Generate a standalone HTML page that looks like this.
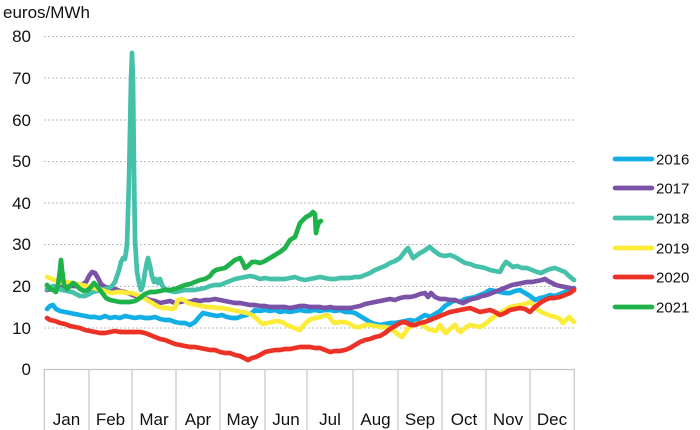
<!DOCTYPE html>
<html><head><meta charset="utf-8"><style>
html,body{margin:0;padding:0;background:#fff;}
svg{display:block;font-family:"Liberation Sans",Arial,sans-serif;}
</style></head><body>
<svg width="700" height="430" viewBox="0 0 700 430" xmlns="http://www.w3.org/2000/svg">
<rect width="700" height="430" fill="#fff"/>
<text x="3" y="18" font-size="17" fill="#111">euros/MWh</text>
<g stroke="#bdbdbd" stroke-width="1" stroke-dasharray="2,2">
<line x1="44" y1="36.5" x2="574" y2="36.5"/>
<line x1="44" y1="78" x2="574" y2="78"/>
<line x1="44" y1="120" x2="574" y2="120"/>
<line x1="44" y1="161.5" x2="574" y2="161.5"/>
<line x1="44" y1="203" x2="574" y2="203"/>
<line x1="44" y1="244.5" x2="574" y2="244.5"/>
<line x1="44" y1="286.5" x2="574" y2="286.5"/>
<line x1="44" y1="328" x2="574" y2="328"/>
</g>
<g font-size="17" fill="#111" text-anchor="end">
<text x="31" y="42">80</text>
<text x="31" y="84">70</text>
<text x="31" y="126">60</text>
<text x="31" y="167">50</text>
<text x="31" y="209">40</text>
<text x="31" y="250">30</text>
<text x="31" y="292">20</text>
<text x="31" y="334">10</text>
<text x="31" y="375">0</text>
</g>
<g stroke="#c4c4c4" stroke-width="1.2" fill="none">
<line x1="44" y1="369.5" x2="574" y2="369.5"/>
<line x1="44.3" y1="369" x2="44.3" y2="430"/>
<line x1="89" y1="369" x2="89" y2="430"/>
<line x1="132" y1="369" x2="132" y2="430"/>
<line x1="176" y1="369" x2="176" y2="430"/>
<line x1="220" y1="369" x2="220" y2="430"/>
<line x1="265" y1="369" x2="265" y2="430"/>
<line x1="307" y1="369" x2="307" y2="430"/>
<line x1="353" y1="369" x2="353" y2="430"/>
<line x1="398" y1="369" x2="398" y2="430"/>
<line x1="442" y1="369" x2="442" y2="430"/>
<line x1="486" y1="369" x2="486" y2="430"/>
<line x1="530" y1="369" x2="530" y2="430"/>
<line x1="574.3" y1="369" x2="574.3" y2="430"/>
</g>
<g font-size="17" fill="#111" text-anchor="middle">
<text x="66.5" y="425">Jan</text>
<text x="110.5" y="425">Feb</text>
<text x="154" y="425">Mar</text>
<text x="198" y="425">Apr</text>
<text x="242.5" y="425">May</text>
<text x="286" y="425">Jun</text>
<text x="330" y="425">Jul</text>
<text x="375.5" y="425">Aug</text>
<text x="420" y="425">Sep</text>
<text x="464" y="425">Oct</text>
<text x="508" y="425">Nov</text>
<text x="552" y="425">Dec</text>
</g>
<g fill="none" stroke-width="4.7" stroke-linejoin="round" stroke-linecap="round">
<polyline stroke="#12aee6" points="47,309 50,306 53,305 56,309 60,311 65,312 70,313 75,314 80,315 85,316 90,317 95,317 100,318 105,316 110,318 115,317 120,318 125,316 130,317 135,318 140,317 145,318 150,318 155,317 160,319 165,320 170,320 175,322 180,323 185,323 190,325 195,322 200,316 203,313 207,314 212,315 217,316 222,315 227,317 232,318 237,318 242,316 247,315 252,313 255,310 260,311 265,310 270,311 275,310 280,312 285,311 290,312 295,311 300,310 305,311 310,311 315,310 320,311 325,310 330,310 335,311 340,310 345,312 350,312 355,313 360,316 365,319 370,322 375,324 380,325 385,324 390,323 395,323 400,322 405,321 410,320 415,321 420,318 425,315 430,317 435,314 440,311 445,306 450,303 455,300 460,302 465,299 470,298 475,297 480,295 485,293 490,290 495,291 500,292 505,293 510,293 515,291 520,290 525,293 530,296 535,300 540,298 545,297 550,295 555,296 560,294 565,292 570,290 574,288"/>
<polyline stroke="#7a52a8" points="47,290 52,289 57,288 62,287 67,286 72,286 77,286 82,285 86,282 89,276 92,272 95,273 98,278 101,284 105,287 110,288 115,289 120,291 125,292 130,294 135,296 140,297 145,298 150,300 155,301 160,303 165,302 170,301 175,303 180,302 185,301 190,302 195,300 200,301 205,300 210,300 215,299 220,300 225,301 230,302 235,303 240,303 245,304 250,305 255,305 260,306 265,306 270,307 275,307 280,307 285,307 290,308 295,307 300,306 305,306 310,307 315,307 320,307 325,308 330,307 335,308 340,308 345,308 350,308 355,307 360,306 365,304 370,303 375,302 380,301 385,300 390,299 395,300 400,298 405,297 410,297 415,296 420,294 425,293 428,297 431,293 435,297 440,299 445,299 450,300 455,300 460,302 463,303 467,301 472,299 477,298 482,296 487,295 492,293 497,291 502,289 507,287 512,285 517,284 522,283 527,282 532,282 537,281 542,280 545,279 548,281 552,283 556,285 560,286 565,287 570,288 574,289"/>
<polyline stroke="#45c1aa" points="47,289 50,287 54,286 58,288 62,290 67,291 72,292 76,294 80,296 85,296 89,294 93,292 97,291 101,290 105,289 109,288 112,286 115,282 117,276 119,270 121,262 123,258 125,259 127,245 129,180 131,80 132,53 133,80 134,170 135,240 137,272 139,283 141,290 143,285 145,272 147,262 148,258 150,266 152,276 154,282 156,279 158,283 160,279 162,285 164,288 167,290 170,291 175,292 180,291 185,290 190,290 195,290 200,289 205,288 210,286 215,285 220,285 225,283 230,281 235,279 240,278 245,277 250,276 255,277 260,279 265,278 270,279 275,279 280,279 285,279 290,278 295,277 300,279 305,280 310,279 315,278 320,277 325,278 330,279 335,279 340,278 345,278 350,278 355,277 360,277 365,275 370,273 375,270 380,268 385,266 390,263 395,261 400,258 403,254 406,250 408,248 410,252 413,258 416,256 420,253 424,251 428,248 430,247 433,250 437,253 440,255 445,256 450,255 455,257 460,260 465,263 470,264 475,266 480,267 485,268 490,270 495,271 500,272 503,266 506,262 509,264 513,267 517,266 522,268 527,268 532,270 537,272 541,273 545,271 550,269 555,268 560,270 565,272 569,276 574,280"/>
<polyline stroke="#fbec3a" points="47,277 52,279 57,281 62,283 67,282 72,283 77,284 82,285 87,286 92,287 97,289 102,290 107,292 112,293 117,292 122,292 127,293 132,293 137,295 142,297 147,300 152,303 157,306 162,308 167,308 172,309 175,308 178,300 181,299 184,300 188,303 192,304 197,305 202,306 207,307 212,307 217,308 222,308 227,309 232,310 237,311 242,312 247,313 252,315 256,318 260,322 263,324 267,323 272,322 277,321 282,322 287,325 292,327 297,329 300,330 303,326 307,322 311,319 316,318 321,317 326,315 329,316 332,321 335,323 340,322 345,322 350,324 355,327 360,327 365,325 370,325 375,326 380,327 385,327 390,328 395,332 399,335 402,337 405,333 408,328 412,326 416,324 420,323 424,326 428,329 432,330 436,331 440,325 443,330 446,333 450,329 455,325 458,330 461,332 465,328 470,325 475,326 480,327 485,324 490,320 495,316 500,313 505,310 510,307 515,306 520,305 525,304 530,302 533,305 537,309 541,312 546,314 551,316 556,317 560,319 563,323 566,320 569,317 572,320 574,322"/>
<polyline stroke="#ec3226" points="47,318 50,320 55,321 60,323 65,324 70,326 75,327 80,328 85,330 90,331 95,332 100,333 105,333 110,332 115,331 120,332 125,332 130,332 135,332 140,332 145,333 150,335 155,337 160,339 165,340 170,342 175,344 180,345 185,346 190,347 195,347 200,348 205,349 210,350 215,350 220,352 225,353 230,353 235,355 240,356 244,358 248,360 252,358 256,357 260,355 265,352 270,351 275,350 280,350 285,349 290,349 295,348 300,347 305,347 310,347 315,348 320,348 325,350 330,352 335,351 340,351 345,350 350,348 355,345 360,342 365,340 370,339 375,337 380,336 385,333 390,329 395,326 400,323 403,322 407,323 411,325 415,325 420,323 425,322 430,320 435,318 440,316 445,314 450,312 455,311 460,310 465,309 470,308 475,310 480,312 485,311 490,310 495,312 500,315 505,313 510,310 515,309 520,308 525,309 530,312 535,307 540,303 545,300 550,298 555,298 560,297 565,295 570,293 574,290"/>
<polyline stroke="#1fb24a" points="47,285 50,289 53,290 56,292 58,285 60,270 61,260 62,270 64,285 67,289 70,286 73,283 76,285 80,289 84,291 88,290 91,287 94,283 97,286 100,290 103,294 106,298 110,300 115,301 120,302 125,302 130,302 135,301 140,298 145,294 150,292 155,292 160,291 165,290 170,290 175,289 180,287 185,285 190,284 195,282 200,280 205,279 210,276 213,272 216,270 220,269 225,268 230,264 235,260 240,258 242,261 245,268 248,266 252,262 256,262 260,263 265,261 270,258 275,255 280,252 285,248 290,240 295,237 300,223 303,220 306,217 310,215 313,212 315,214 316,233 317,228 319,222 321,221"/>
</g>
<g stroke-width="4.7" stroke-linecap="round">
<line x1="615" y1="159" x2="652" y2="159" stroke="#12aee6"/>
<line x1="615" y1="188" x2="652" y2="188" stroke="#7a52a8"/>
<line x1="615" y1="218" x2="652" y2="218" stroke="#45c1aa"/>
<line x1="615" y1="248" x2="652" y2="248" stroke="#fbec3a"/>
<line x1="615" y1="277" x2="652" y2="277" stroke="#ec3226"/>
<line x1="615" y1="307" x2="652" y2="307" stroke="#1fb24a"/>
</g>
<g font-size="15" fill="#111">
<text x="656" y="164.5">2016</text>
<text x="656" y="193.5">2017</text>
<text x="656" y="223.5">2018</text>
<text x="656" y="253.5">2019</text>
<text x="656" y="282.5">2020</text>
<text x="656" y="312.5">2021</text>
</g>
</svg>
</body></html>
